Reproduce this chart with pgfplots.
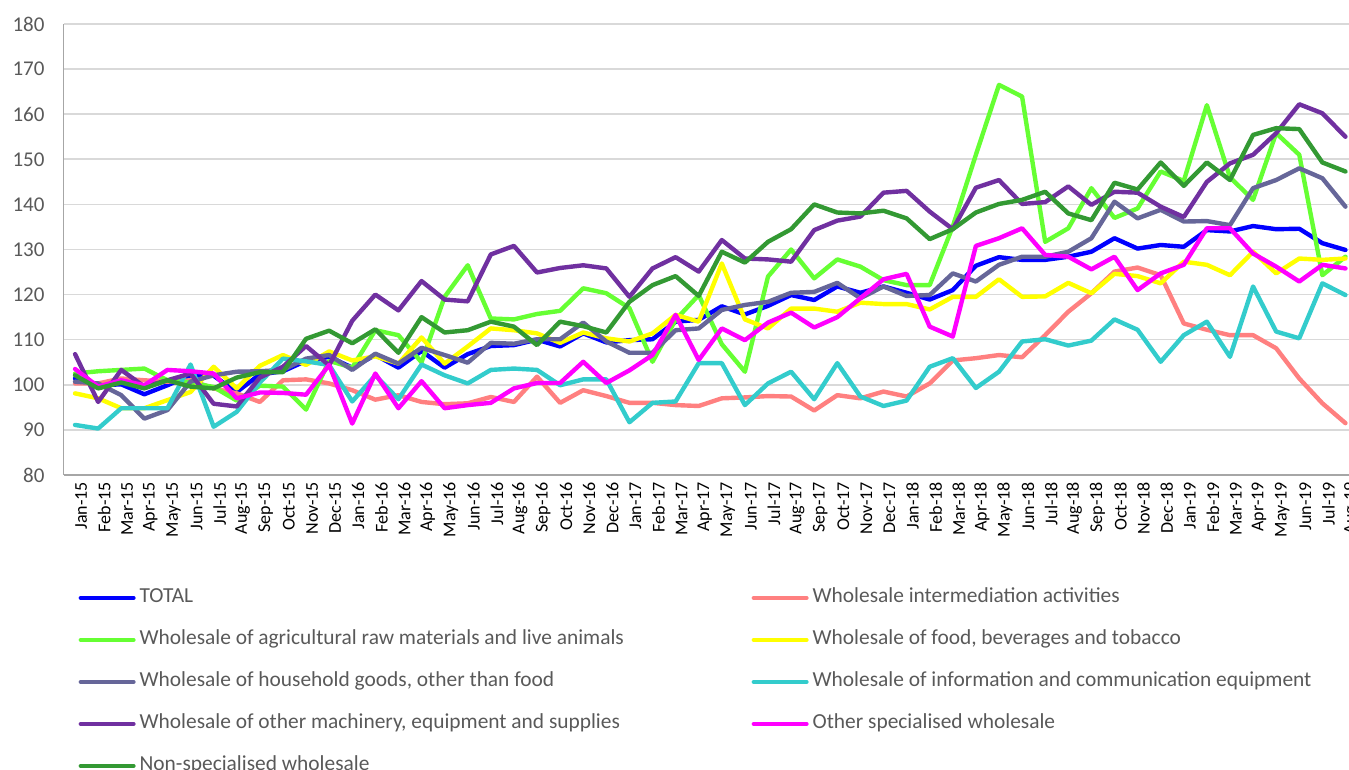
\documentclass[border=0pt]{standalone}
\usepackage{pgfplots}
\pgfplotsset{compat=1.18}
\usepackage{pgfplotstable}
\usepackage{fontspec}
\setmainfont{Carlito}

\definecolor{cTotal}{HTML}{0000FF}
\definecolor{cInter}{HTML}{FF8080}
\definecolor{cAgri}{HTML}{66FF33}
\definecolor{cFood}{HTML}{FFFF00}
\definecolor{cHouse}{HTML}{666699}
\definecolor{cIct}{HTML}{33CCCC}
\definecolor{cMach}{HTML}{7030A0}
\definecolor{cOther}{HTML}{FF00FF}
\definecolor{cNonspec}{HTML}{339933}
\definecolor{txtgrey}{HTML}{595959}
\definecolor{gridgrey}{HTML}{D9D9D9}
\definecolor{axisgrey}{HTML}{A6A6A6}

% month index, then one column per series
\pgfplotstableread{
m total inter agri food house ict mach other nonspec
0 101.4 100.3 102.5 98.1 100.7 91.1 106.8 103.5 102.1
1 99.9 100.3 103.0 97.0 100.3 90.3 96.2 99.6 99.2
2 100.1 101.4 103.3 94.8 97.7 94.8 103.3 101.0 100.5
3 97.9 101.0 103.6 94.8 92.5 94.8 99.6 99.9 99.2
4 99.9 100.7 101.0 96.6 94.4 94.8 101.0 103.3 101.0
5 102.1 101.0 100.5 98.4 100.7 104.5 102.5 103.0 99.6
6 102.0 99.2 99.5 104.0 102.1 90.7 95.8 102.5 99.2
7 98.4 98.1 96.5 99.2 102.9 94.0 95.2 97.0 101.6
8 102.3 96.2 99.8 104.2 103.0 100.5 101.6 98.3 102.8
9 103.0 101.0 99.6 106.6 103.3 105.8 104.0 98.2 102.8
10 105.3 101.2 94.5 104.4 105.8 105.2 108.6 97.8 110.2
11 106.2 100.3 105.3 107.4 106.6 104.4 104.3 104.4 112.0
12 103.8 98.8 103.8 105.4 103.3 96.3 114.2 91.4 109.2
13 106.6 96.7 112.1 106.3 106.9 102.1 120.0 102.5 112.3
14 103.8 97.7 111.0 104.7 104.7 96.8 116.5 94.8 107.1
15 107.5 96.2 105.0 110.5 108.2 104.5 123.0 100.8 115.0
16 103.8 95.7 119.5 104.7 106.6 102.1 118.9 94.8 111.6
17 106.8 95.9 126.5 108.5 104.9 100.3 118.5 95.5 112.1
18 108.6 97.3 114.7 112.5 109.3 103.3 128.9 96.0 114.0
19 108.8 96.2 114.5 112.1 109.1 103.6 130.8 99.2 112.9
20 110.0 101.8 115.7 111.4 110.1 103.3 124.9 100.4 108.8
21 108.5 96.0 116.4 109.3 110.1 99.9 125.9 100.4 114.0
22 111.4 98.8 121.4 111.6 113.8 101.2 126.5 105.1 113.0
23 109.4 97.5 120.3 110.3 109.6 101.2 125.8 100.4 111.6
24 109.9 96.0 117.0 109.6 107.1 91.7 119.5 103.2 118.4
25 110.1 96.0 105.1 111.4 107.1 96.0 125.8 106.6 122.1
26 114.0 95.5 114.4 115.5 112.1 96.3 128.3 115.5 124.1
27 114.4 95.3 119.9 114.0 112.5 104.8 125.1 105.5 119.7
28 117.4 97.0 109.0 126.9 116.6 104.8 132.1 112.5 129.5
29 115.6 97.2 102.9 114.5 117.7 95.5 128.0 109.9 127.1
30 117.5 97.5 124.0 112.5 118.4 100.3 127.8 113.8 131.7
31 119.9 97.4 130.0 116.9 120.4 102.9 127.3 116.0 134.5
32 118.8 94.3 123.6 116.9 120.6 96.8 134.3 112.7 140.0
33 121.8 97.7 127.8 116.2 122.6 104.8 136.4 115.0 138.2
34 120.4 97.0 126.2 118.2 119.2 97.4 137.3 119.2 138.0
35 121.8 98.5 123.2 117.9 121.8 95.3 142.6 123.4 138.6
36 120.4 97.4 122.1 117.9 119.7 96.5 143.0 124.6 136.9
37 118.9 100.3 122.1 116.7 119.9 104.0 138.4 112.9 132.3
38 121.0 105.4 135.1 119.5 124.7 105.9 134.5 110.7 134.5
39 126.4 105.9 151.0 119.5 122.9 99.3 143.7 130.8 138.2
40 128.3 106.6 166.5 123.4 126.6 102.9 145.4 132.5 140.1
41 127.7 106.1 163.9 119.5 128.4 109.6 140.1 134.7 141.0
42 127.7 111.0 131.7 119.6 128.4 110.1 140.5 128.8 142.8
43 128.4 116.2 134.7 122.6 129.5 108.7 144.0 128.4 138.0
44 129.5 120.3 143.6 120.3 132.5 109.8 139.9 125.6 136.5
45 132.5 125.1 137.0 124.6 140.6 114.5 142.8 128.4 144.8
46 130.2 126.0 139.1 124.1 136.9 112.2 142.6 121.0 143.3
47 131.0 124.3 147.3 122.5 138.8 105.1 139.5 124.7 149.3
48 130.6 113.6 145.2 127.3 136.2 111.0 137.2 126.6 144.1
49 134.3 112.2 162.0 126.6 136.3 114.0 145.0 134.7 149.3
50 134.0 111.0 146.0 124.3 135.4 106.2 149.1 134.7 145.4
51 135.2 111.0 141.0 129.5 143.6 121.8 151.0 129.1 155.4
52 134.5 108.1 155.8 124.7 145.4 111.8 155.8 126.2 156.9
53 134.6 101.4 151.0 128.0 148.0 110.3 162.2 122.9 156.7
54 131.4 95.9 124.3 127.7 145.8 122.5 160.2 126.6 149.3
55 129.9 91.5 128.4 128.0 139.5 119.9 155.0 125.8 147.3
}\data

\begin{document}
\begin{tikzpicture}
\path[use as bounding box] (0,0) rectangle (674.5pt,385pt);
\begin{axis}[
  at={(31.75pt,147.5pt)}, anchor=south west,
  scale only axis, width=646.75pt, height=225.5pt,
  xmin=-0.5, xmax=55.5, ymin=80, ymax=180,
  ytick distance=10,
  xtick={0,...,55},
  xticklabels={Jan-15,Feb-15,Mar-15,Apr-15,May-15,Jun-15,Jul-15,Aug-15,Sep-15,Oct-15,Nov-15,Dec-15,
    Jan-16,Feb-16,Mar-16,Apr-16,May-16,Jun-16,Jul-16,Aug-16,Sep-16,Oct-16,Nov-16,Dec-16,
    Jan-17,Feb-17,Mar-17,Apr-17,May-17,Jun-17,Jul-17,Aug-17,Sep-17,Oct-17,Nov-17,Dec-17,
    Jan-18,Feb-18,Mar-18,Apr-18,May-18,Jun-18,Jul-18,Aug-18,Sep-18,Oct-18,Nov-18,Dec-18,
    Jan-19,Feb-19,Mar-19,Apr-19,May-19,Jun-19,Jul-19,Aug-19},
  axis x line*=bottom, axis y line*=left,
  axis line style={draw=axisgrey, line width=0.8pt},
  major tick length=0pt,
  ymajorgrids, grid style={draw=gridgrey, line width=0.8pt},
  /pgf/number format/assume math mode=true,
  yticklabel style={font=\fontsize{10.5}{12}\selectfont, text=txtgrey, xshift=-6pt},
  xticklabel style={font=\fontsize{9}{10}\selectfont, text=black, rotate=90, anchor=east, yshift=-3pt},
  every axis plot/.append style={line width=2.2pt, line join=round, line cap=round},
  legend columns=2,
  legend cell align=left,
  legend image code/.code={\draw[#1, line width=2pt] (0pt,0pt) -- (26.5pt,0pt);},
  legend style={at={(axis description cs:0.0114,-0.2517)}, anchor=north west,
    draw=none, fill=none, inner sep=0pt,
    font=\fontsize{10.7}{12}\selectfont, text=txtgrey,
    row sep=12pt,
    nodes={text height=7pt, text depth=2pt, inner ysep=0pt}},
]
\addplot[cTotal] table[x=m, y=total] {\data};
\addlegendentry{\makebox[304pt][l]{TOTAL}}
\addplot[cInter] table[x=m, y=inter] {\data};
\addlegendentry{Wholesale intermediation activities}
\addplot[cAgri] table[x=m, y=agri] {\data};
\addlegendentry{\makebox[304pt][l]{Wholesale of agricultural raw materials and live animals}}
\addplot[cFood] table[x=m, y=food] {\data};
\addlegendentry{Wholesale of food, beverages and tobacco}
\addplot[cHouse] table[x=m, y=house] {\data};
\addlegendentry{\makebox[304pt][l]{Wholesale of household goods, other than food}}
\addplot[cIct] table[x=m, y=ict] {\data};
\addlegendentry{Wholesale of information and communication equipment}
\addplot[cMach] table[x=m, y=mach] {\data};
\addlegendentry{\makebox[304pt][l]{Wholesale of other machinery, equipment and supplies}}
\addplot[cOther] table[x=m, y=other] {\data};
\addlegendentry{Other specialised wholesale}
\addplot[cNonspec] table[x=m, y=nonspec] {\data};
\addlegendentry{\makebox[304pt][l]{Non-specialised wholesale}}
\end{axis}
\end{tikzpicture}
\end{document}
